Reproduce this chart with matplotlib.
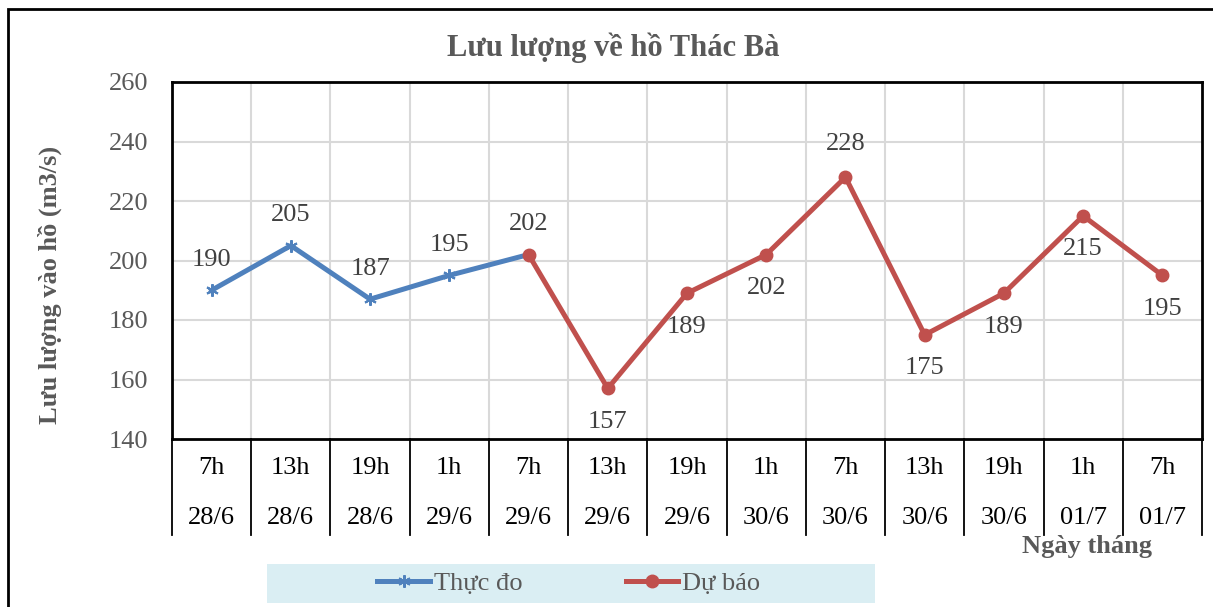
import matplotlib.pyplot as plt
import matplotlib.transforms as mtransforms
from matplotlib.patches import Rectangle

plt.rcParams['font.family'] = ['Liberation Serif', 'DejaVu Serif']

gio = ['7h', '13h', '19h', '1h', '7h', '13h', '19h', '1h', '7h', '13h', '19h', '1h', '7h']
ngay = ['28/6', '28/6', '28/6', '29/6', '29/6', '29/6', '29/6', '30/6', '30/6', '30/6', '30/6', '01/7', '01/7']

thuc_do_x = [0, 1, 2, 3, 4]
thuc_do = [190, 205, 187, 195, 202]
du_bao_x = [4, 5, 6, 7, 8, 9, 10, 11, 12]
du_bao = [202, 157, 189, 202, 228, 175, 189, 215, 195]
# label above (+1) or below (-1) the point, None = no label
du_bao_pos = [None, -1, -1, -1, 1, -1, -1, -1, -1]

blue = '#4F81BD'
red = '#C0504D'
gray = '#595959'
fs = 19

fig = plt.figure(figsize=(12.13, 6.07), dpi=100)
ax = fig.add_axes([172 / 1213, 1 - 439 / 607, 1030 / 1213, 357 / 607])

# outer chart frame
fig.patches.append(Rectangle((8 / 1213, -0.1), 1.2, 1 - 9 / 607 + 0.1, transform=fig.transFigure,
                             fill=False, edgecolor='black', linewidth=2))

ax.plot(thuc_do_x, thuc_do, color=blue, linewidth=3.6, marker=(6, 2, 0), markersize=9,
        markeredgewidth=1.5, label='Thực đo', zorder=3)
ax.plot(du_bao_x, du_bao, color=red, linewidth=3.6, marker='o', markersize=9,
        label='Dự báo', zorder=3)

for x, v in zip(thuc_do_x, thuc_do):
    ax.annotate(str(v), (x, v), xytext=(0, 22), textcoords='offset points',
                ha='center', va='center', fontsize=fs, color='#404040')
for x, v, p in zip(du_bao_x, du_bao, du_bao_pos):
    if p is None:
        continue
    ax.annotate(str(v), (x, v), xytext=(0, 24 * p), textcoords='offset points',
                ha='center', va='center', fontsize=fs, color='#404040')

ax.set_xlim(-0.5, len(gio) - 0.5)
ax.set_ylim(140, 260)
ax.set_yticks(range(140, 261, 20))
ax.tick_params(axis='y', length=0, pad=17, labelsize=fs, labelcolor=gray)
ax.set_xticks([])
for y in range(160, 260, 20):
    ax.axhline(y, color='#D9D9D9', linewidth=1.5, zorder=1)
for i in range(len(gio) - 1):
    ax.axvline(i + 0.5, color='#D9D9D9', linewidth=1.5, zorder=1)
for s in ax.spines.values():
    s.set_linewidth(2)
    s.set_color('black')

# category table under the axis
tr = mtransforms.blended_transform_factory(ax.transData, ax.transAxes)
for i in range(len(gio) + 1):
    ax.plot([i - 0.5, i - 0.5], [0, -96 / 357], color='black', linewidth=1.3,
            transform=tr, clip_on=False)
for i in range(len(gio)):
    ax.text(i, -29 / 357, gio[i], transform=tr, ha='center', va='center', fontsize=fs)
    ax.text(i, -79 / 357, ngay[i], transform=tr, ha='center', va='center', fontsize=fs)

fig.text(1087 / 1213, 1 - 546 / 607, 'Ngày tháng', ha='center', va='center',
         fontsize=fs, fontweight='bold', color=gray)
fig.text(613 / 1213, 1 - 48 / 607, 'Lưu lượng về hồ Thác Bà', ha='center', va='center',
         fontsize=22, fontweight='bold', color=gray)
fig.text(50 / 1213, 1 - 285 / 607, 'Lưu lượng vào hồ (m3/s)', ha='center', va='center',
         rotation=90, fontsize=fs, fontweight='bold', color=gray)

# legend
fig.patches.append(Rectangle((267 / 1213, 1 - 603 / 607), 608 / 1213, 39 / 607,
                             transform=fig.transFigure, facecolor='#DAEEF3', edgecolor='none'))
leg = fig.legend(loc='center', bbox_to_anchor=(569 / 1213, 1 - 583 / 607), ncol=2,
                 frameon=False, fontsize=fs, handlelength=2.0, handletextpad=0.15,
                 columnspacing=3.9)
for t in leg.get_texts():
    t.set_color(gray)

fig.savefig('out.png', dpi=100)
